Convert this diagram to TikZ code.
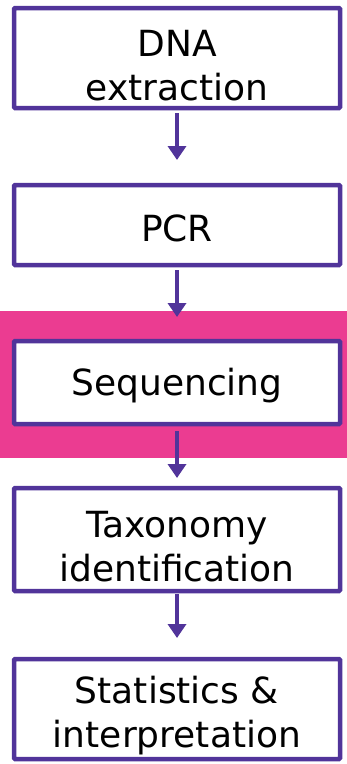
\documentclass[tikz,border=0pt]{standalone}
\usepackage{fontspec}
\setmainfont{DejaVu Sans}
\usetikzlibrary{positioning,arrows.meta}
\definecolor{stepline}{HTML}{51349A}
\definecolor{highlight}{HTML}{EB3C91}
\newcommand{\tallstrut}{\rule{0pt}{41pt}}
\tikzset{
  stage/.style={draw=stepline, line width=4.5pt, fill=white, rounded corners=1pt,
    minimum width=326pt, inner sep=0pt, outer sep=0pt, align=center,
    font=\fontsize{36}{44}\selectfont,
    execute at begin node={\rule{0pt}{33pt}}},
  flow/.style={draw=stepline, line width=4.5pt, -{Triangle[width=18pt,length=14pt]}}
}
\begin{document}
\begin{tikzpicture}[node distance=76pt, thick]
        \useasboundingbox (0,0) rectangle (347pt,-764pt);
        \fill[highlight] (0,-311pt) rectangle (347pt,-458pt);

        \node (dna) [stage, minimum height=100pt] at (177pt,-58pt) {\tallstrut DNA\\extraction};
        \node (pcr) [stage, minimum height=80pt, below=77pt of dna] {PCR};
        \node (seq) [stage, minimum height=83pt, below=of pcr] {Sequencing};
        \node (tax) [stage, minimum height=103pt, below=64pt of seq] {\tallstrut Taxonomy\\identification};
        \node (stat) [stage, minimum height=100pt, below=68pt of tax] {\tallstrut Statistics \&\\interpretation};

        \draw[flow, shorten <=5pt, shorten >=25pt] (dna) -- (pcr);
        \draw[flow, shorten <=5pt, shorten >=24pt] (pcr) -- (seq);
        \draw[flow, shorten <=7pt, shorten >=10pt] (seq) -- (tax);
        \draw[flow, shorten <=3pt, shorten >=21pt] (tax) -- (stat);
    \end{tikzpicture}
\end{document}
